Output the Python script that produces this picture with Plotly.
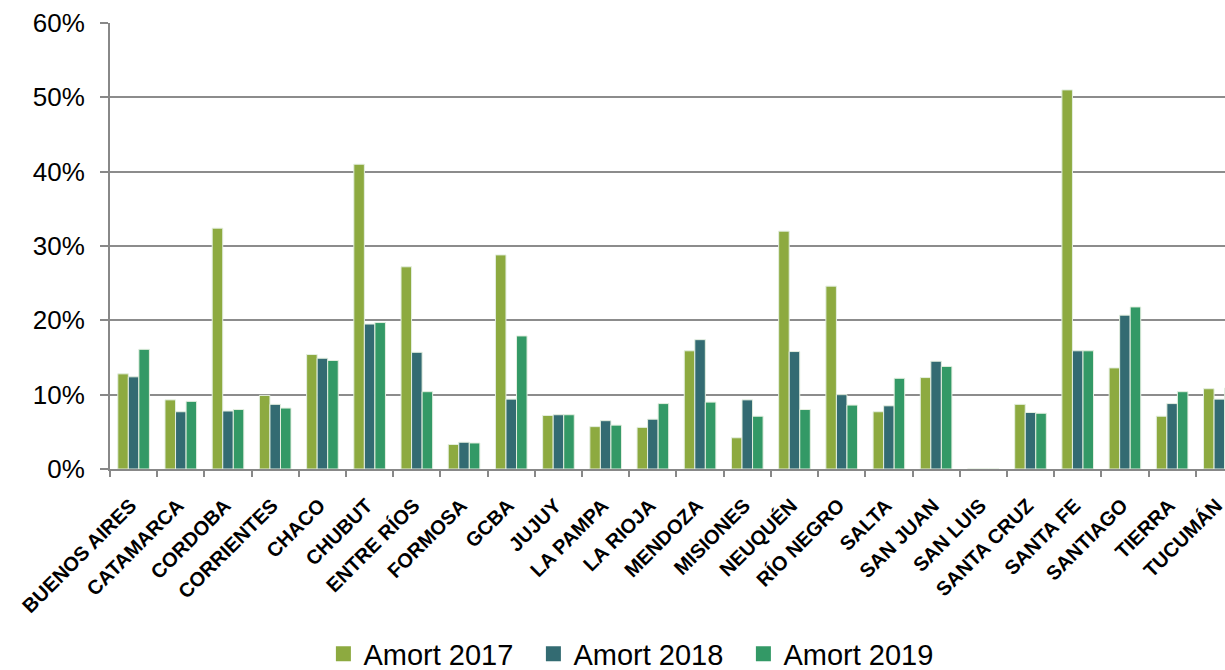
import plotly.graph_objects as go

provinces = ["BUENOS AIRES", "CATAMARCA", "CORDOBA", "CORRIENTES", "CHACO", "CHUBUT",
             "ENTRE RÍOS", "FORMOSA", "GCBA", "JUJUY", "LA PAMPA", "LA RIOJA", "MENDOZA",
             "MISIONES", "NEUQUÉN", "RÍO NEGRO", "SALTA", "SAN JUAN", "SAN LUIS",
             "SANTA CRUZ", "SANTA FE", "SANTIAGO", "TIERRA", "TUCUMÁN"]

amort_2017 = [12.8, 9.3, 32.4, 9.9, 15.4, 41.0, 27.2, 3.3, 28.8, 7.2, 5.7, 5.6, 15.9,
              4.2, 32.0, 24.6, 7.7, 12.3, 0.0, 8.7, 51.0, 13.6, 7.1, 10.8]
amort_2018 = [12.4, 7.7, 7.8, 8.7, 14.9, 19.5, 15.7, 3.6, 9.4, 7.3, 6.5, 6.7, 17.4,
              9.3, 15.8, 10.0, 8.5, 14.5, 0.0, 7.6, 15.9, 20.7, 8.8, 9.4]
amort_2019 = [16.1, 9.1, 8.0, 8.2, 14.6, 19.7, 10.4, 3.5, 17.9, 7.3, 5.9, 8.8, 9.0,
              7.1, 8.0, 8.6, 12.2, 13.8, 0.0, 7.5, 15.9, 21.8, 10.4, 10.9]

series_names = ["Amort 2017", "Amort 2018", "Amort 2019"]
colors = ["#8DAA40", "#336B72", "#339966"]

FONT = "Liberation Sans, Arial, sans-serif"

fig = go.Figure()
for name, vals, col in zip(series_names, [amort_2017, amort_2018, amort_2019], colors):
    fig.add_trace(go.Bar(
        x=provinces, y=[v / 100 for v in vals], name=name, showlegend=False,
        marker=dict(color=col, line=dict(color="#E4EFE0", width=1)),
    ))
# legend entries with square swatches
for name, col in zip(series_names, colors):
    fig.add_trace(go.Scatter(
        x=[None], y=[None], mode="markers", name=name,
        marker=dict(symbol="square", size=15, color=col),
    ))

fig.update_layout(
    width=1225, height=670,
    margin=dict(l=110, r=0, t=23, b=201, autoexpand=False),
    paper_bgcolor="white", plot_bgcolor="white",
    barmode="group", bargap=0.33, bargroupgap=0.0,
    font=dict(family=FONT, color="black"),
    legend=dict(orientation="h", xref="container", yref="container",
                x=0.264, xanchor="left", y=0.024, yanchor="middle",
                font=dict(size=29), itemwidth=30, entrywidth=165,
                traceorder="normal"),
    xaxis=dict(
        type="category", range=[-0.5, 23.12], tickangle=-45, tickson="boundaries",
        ticks="outside", ticklen=6, tickcolor="#888888", tickwidth=2,
        showline=True, linecolor="#888888", linewidth=2,
        tickfont=dict(size=20, family=FONT, weight="bold"),
        ticklabelstandoff=15, ticklabelshift=-3, automargin=False,
        showgrid=False,
    ),
    yaxis=dict(
        range=[0, 0.6], dtick=0.1, tickformat=".0%",
        showgrid=True, gridcolor="#8C8C8C", gridwidth=2,
        showline=True, linecolor="#888888", linewidth=2,
        ticks="outside", ticklen=8, tickcolor="#888888", tickwidth=2,
        tickfont=dict(size=26), zeroline=False, automargin=False,
        ticklabelstandoff=10,
    ),
)

fig.write_html("out.html", config={"displayModeBar": False},
               post_script="document.body.style.margin='0';")
